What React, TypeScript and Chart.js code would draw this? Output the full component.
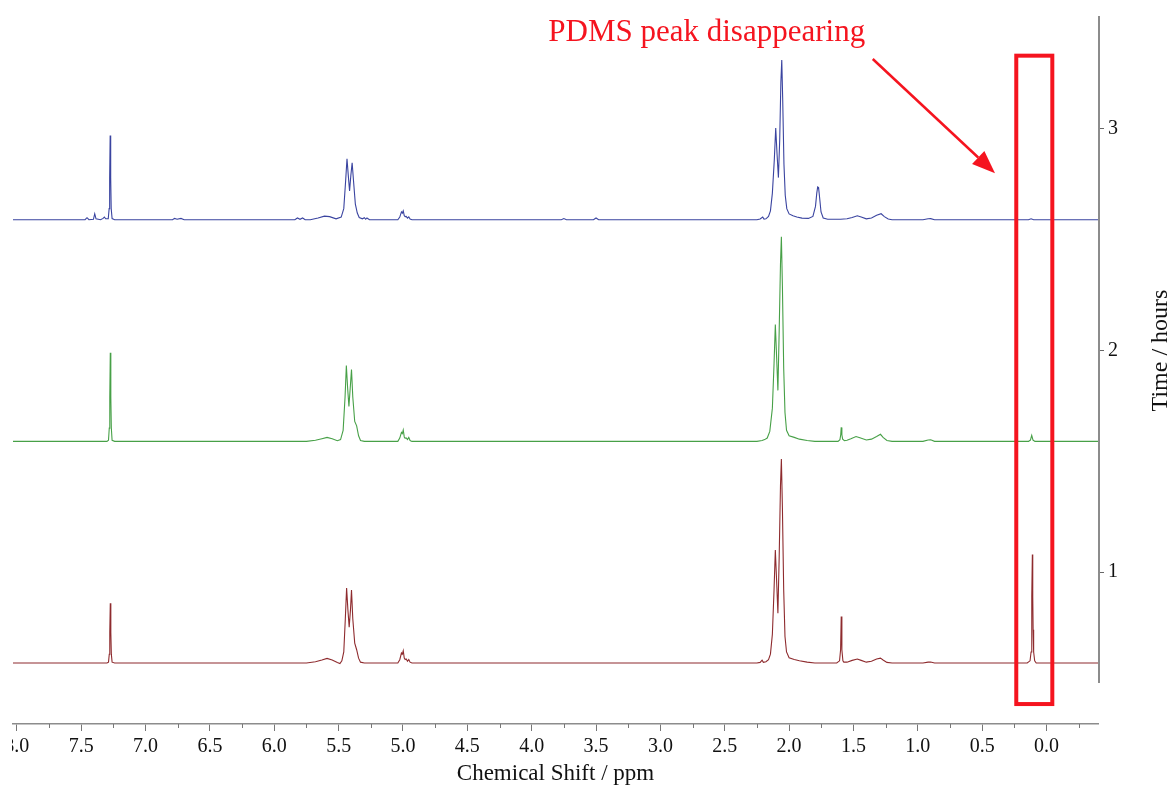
import React, { useEffect, useRef } from 'react';
import { Chart, registerables } from 'chart.js';

Chart.register(...registerables);

// ---- axis ticks ----
const X_MAJOR_TICKS = [8.0, 7.5, 7.0, 6.5, 6.0, 5.5, 5.0, 4.5, 4.0, 3.5, 3.0, 2.5, 2.0, 1.5, 1.0, 0.5, 0.0];
const X_MINOR_TICKS = [7.75, 7.25, 6.75, 6.25, 5.75, 5.25, 4.75, 4.25, 3.75, 3.25, 2.75, 2.25, 1.75, 1.25, 0.75, 0.25, -0.25];
const Y_TICKS = [1, 2, 3];
const X_MIN = -0.4;
const X_MAX = 8.03;
const Y_MIN = 0.315;
const Y_MAX = 3.509;
const Y_AXIS_END = 0.5;

// ---- series: time (hours), baseline offset and colour ----
const TIMES = [1, 2, 3];
const BASELINES = [0.59, 1.59, 2.59];
const COLORS = ['#8e2b2e', '#47a047', '#3a44a0'];

// spectra: [chemical shift (ppm), intensity above baseline (hour units)]
const SPEC_1H: [number, number][] = [
  [8.03, 0], [7.3, 0], [7.288, 0.004], [7.282, 0.04], [7.278, 0.14], [7.274, 0.27], [7.27, 0.14], [7.266, 0.04], [7.26, 0.004], [7.24, 0],
  [5.75, 0], [5.68, 0.006], [5.63, 0.014], [5.59, 0.021], [5.55, 0.014], [5.51, 0.002], [5.49, -0.002],
  [5.475, 0.01], [5.46, 0.05], [5.448, 0.2], [5.438, 0.338], [5.428, 0.24], [5.418, 0.162], [5.408, 0.24], [5.4, 0.329], [5.39, 0.2], [5.375, 0.09], [5.36, 0.06], [5.345, 0.022], [5.33, 0.004], [5.3, 0],
  [5.04, 0], [5.025, 0.015], [5.012, 0.045], [5.005, 0.04], [4.998, 0.055], [4.99, 0.022], [4.983, 0.016], [4.975, 0.018], [4.965, 0.008], [4.955, 0.016], [4.945, 0.004], [4.93, 0],
  [2.25, 0], [2.225, 0.003], [2.21, 0.013], [2.2, 0.003], [2.18, 0.006], [2.16, 0.015], [2.145, 0.04], [2.13, 0.13], [2.117, 0.33], [2.107, 0.51], [2.097, 0.37], [2.087, 0.225], [2.077, 0.48], [2.067, 0.8], [2.06, 0.92], [2.052, 0.7], [2.042, 0.33], [2.032, 0.12], [2.02, 0.05], [2.0, 0.024], [1.96, 0.016], [1.92, 0.01], [1.86, 0.004], [1.8, 0],
  [1.63, 0], [1.608, 0.01], [1.6, 0.06], [1.595, 0.21], [1.59, 0.06], [1.582, 0.01], [1.575, 0.004], [1.55, 0.004], [1.51, 0.012], [1.47, 0.018], [1.44, 0.012], [1.4, 0.004], [1.36, 0.008], [1.32, 0.018], [1.29, 0.022], [1.27, 0.014], [1.24, 0.003], [1.2, 0],
  [0.96, 0], [0.92, 0.004], [0.9, 0.005], [0.87, 0],
  [0.15, 0], [0.128, 0.01], [0.12, 0.05], [0.116, 0.15], [0.113, 0.3], [0.11, 0.49], [0.107, 0.3], [0.104, 0.15], [0.1, 0.05], [0.092, 0.01], [0.08, 0], [-0.4, 0],
];

const SPEC_2H: [number, number][] = [
  [8.03, 0], [7.3, 0], [7.288, 0.005], [7.282, 0.06], [7.278, 0.2], [7.274, 0.4], [7.27, 0.2], [7.266, 0.06], [7.26, 0.005], [7.24, 0],
  [5.75, 0], [5.68, 0.005], [5.63, 0.012], [5.59, 0.018], [5.55, 0.012], [5.51, 0.003],
  [5.485, 0.008], [5.465, 0.05], [5.45, 0.2], [5.44, 0.342], [5.43, 0.24], [5.42, 0.158], [5.41, 0.24], [5.4, 0.324], [5.39, 0.2], [5.375, 0.09], [5.36, 0.07], [5.345, 0.025], [5.33, 0.004], [5.3, 0],
  [5.04, 0], [5.025, 0.015], [5.012, 0.04], [5.005, 0.035], [4.998, 0.051], [4.99, 0.02], [4.983, 0.014], [4.975, 0.016], [4.965, 0.008], [4.955, 0.018], [4.945, 0.004], [4.93, 0],
  [2.25, 0], [2.21, 0.004], [2.19, 0.008], [2.17, 0.015], [2.15, 0.045], [2.13, 0.15], [2.117, 0.35], [2.107, 0.527], [2.097, 0.38], [2.087, 0.23], [2.077, 0.5], [2.067, 0.8], [2.06, 0.923], [2.052, 0.7], [2.042, 0.33], [2.032, 0.13], [2.02, 0.05], [2.0, 0.025], [1.96, 0.018], [1.92, 0.01], [1.86, 0.004], [1.8, 0],
  [1.62, 0], [1.605, 0.008], [1.599, 0.03], [1.595, 0.063], [1.59, 0.03], [1.584, 0.01], [1.57, 0.003], [1.55, 0.005], [1.52, 0.012], [1.48, 0.022], [1.45, 0.016], [1.4, 0.006], [1.36, 0.01], [1.32, 0.022], [1.29, 0.032], [1.27, 0.018], [1.24, 0.004], [1.2, 0],
  [0.96, 0], [0.92, 0.006], [0.9, 0.007], [0.87, 0],
  [0.14, 0], [0.125, 0.006], [0.115, 0.027], [0.105, 0.006], [0.09, 0], [-0.4, 0],
];

const SPEC_3H: [number, number][] = [
  [8.03, 0], [7.47, 0], [7.455, 0.009], [7.44, 0], [7.405, 0.002], [7.395, 0.027], [7.385, 0.004], [7.35, 0], [7.33, 0.006], [7.32, 0.012], [7.31, 0.004],
  [7.29, 0.004], [7.283, 0.05], [7.279, 0.19], [7.275, 0.38], [7.271, 0.19], [7.267, 0.05], [7.26, 0.005], [7.24, 0],
  [6.79, 0], [6.775, 0.006], [6.755, 0.002], [6.725, 0.006], [6.7, 0],
  [5.84, 0], [5.82, 0.008], [5.8, 0.002], [5.78, 0.008], [5.76, 0],
  [5.72, 0], [5.66, 0.008], [5.61, 0.016], [5.57, 0.014], [5.52, 0.004],
  [5.48, 0.012], [5.46, 0.05], [5.445, 0.18], [5.435, 0.275], [5.425, 0.2], [5.415, 0.13], [5.405, 0.2], [5.395, 0.257], [5.385, 0.18], [5.37, 0.07], [5.355, 0.03], [5.34, 0.01], [5.315, 0.004], [5.3, 0.009], [5.29, 0.002], [5.28, 0.008], [5.26, 0],
  [5.04, 0], [5.025, 0.012], [5.012, 0.035], [5.005, 0.03], [4.998, 0.04], [4.99, 0.018], [4.983, 0.014], [4.975, 0.015], [4.965, 0.007], [4.955, 0.013], [4.945, 0.003], [4.93, 0],
  [3.77, 0], [3.75, 0.005], [3.73, 0],
  [3.52, 0], [3.5, 0.008], [3.48, 0],
  [2.25, 0], [2.225, 0.003], [2.205, 0.012], [2.195, 0.003], [2.18, 0.004], [2.16, 0.015], [2.145, 0.04], [2.13, 0.12], [2.115, 0.27], [2.104, 0.414], [2.094, 0.3], [2.083, 0.19], [2.073, 0.36], [2.064, 0.62], [2.057, 0.72], [2.05, 0.55], [2.04, 0.25], [2.03, 0.11], [2.018, 0.05], [2.0, 0.026], [1.97, 0.018], [1.94, 0.012], [1.9, 0.007], [1.85, 0.006],
  [1.815, 0.015], [1.795, 0.06], [1.785, 0.12], [1.778, 0.148], [1.771, 0.145], [1.763, 0.1], [1.752, 0.035], [1.735, 0.008], [1.7, 0.002], [1.6, 0.002],
  [1.55, 0.004], [1.51, 0.01], [1.47, 0.018], [1.44, 0.012], [1.4, 0.004], [1.36, 0.008], [1.32, 0.02], [1.285, 0.027], [1.26, 0.014], [1.23, 0.003], [1.2, 0],
  [0.96, 0], [0.92, 0.004], [0.9, 0.005], [0.87, 0],
  [0.14, 0], [0.12, 0.004], [0.1, 0], [-0.4, 0],
];

const SPECTRA = [SPEC_1H, SPEC_2H, SPEC_3H];

// ---- annotation ----
const NOTE_TEXT = 'PDMS peak disappearing';
const NOTE_AT = { ppm: 2.64, hours: 3.435 };
const ARROW_FROM = { ppm: 1.35, hours: 3.315 };
const ARROW_TO = { ppm: 0.4, hours: 2.8 };
const BOX_PPM = [0.235, -0.045];
const BOX_HOURS = [3.33, 0.405];

const SERIF = '"Liberation Serif", "Times New Roman", serif';
const RED = '#f5141f';

const decorPlugin = {
  id: 'decor',
  afterDraw(chart: any) {
    const { ctx, chartArea, scales } = chart;
    const x = scales.x;
    const y = scales.y;
    ctx.save();
    // right axis line
    ctx.strokeStyle = '#8c8c8c';
    ctx.lineWidth = 2;
    ctx.beginPath();
    ctx.moveTo(chartArea.right + 1, chartArea.top);
    ctx.lineTo(chartArea.right + 1, y.getPixelForValue(Y_AXIS_END));
    ctx.stroke();
    // minor x ticks
    ctx.strokeStyle = '#777';
    ctx.lineWidth = 1;
    X_MINOR_TICKS.forEach((v) => {
      const px = Math.round(x.getPixelForValue(v)) + 0.5;
      ctx.beginPath();
      ctx.moveTo(px, chartArea.bottom);
      ctx.lineTo(px, chartArea.bottom + 4);
      ctx.stroke();
    });
    // right axis title (reads upwards)
    ctx.save();
    ctx.translate(chartArea.right + 63, y.getPixelForValue(2));
    ctx.rotate(-Math.PI / 2);
    ctx.font = `24px ${SERIF}`;
    ctx.fillStyle = '#111';
    ctx.textAlign = 'center';
    ctx.textBaseline = 'middle';
    ctx.fillText('Time / hours', 0, 0);
    ctx.restore();
    // red box
    const bx0 = x.getPixelForValue(BOX_PPM[0]);
    const bx1 = x.getPixelForValue(BOX_PPM[1]);
    const by0 = y.getPixelForValue(BOX_HOURS[0]);
    const by1 = y.getPixelForValue(BOX_HOURS[1]);
    ctx.strokeStyle = RED;
    ctx.lineWidth = 4;
    ctx.strokeRect(bx0, by0, bx1 - bx0, by1 - by0);
    // note text
    ctx.font = `31px ${SERIF}`;
    ctx.fillStyle = RED;
    ctx.textAlign = 'center';
    ctx.textBaseline = 'middle';
    ctx.fillText(NOTE_TEXT, x.getPixelForValue(NOTE_AT.ppm), y.getPixelForValue(NOTE_AT.hours));
    // arrow
    const ax0 = x.getPixelForValue(ARROW_FROM.ppm);
    const ay0 = y.getPixelForValue(ARROW_FROM.hours);
    const ax1 = x.getPixelForValue(ARROW_TO.ppm);
    const ay1 = y.getPixelForValue(ARROW_TO.hours);
    const ang = Math.atan2(ay1 - ay0, ax1 - ax0);
    const headLen = 23;
    const headW = 9;
    const bxh = ax1 - headLen * Math.cos(ang);
    const byh = ay1 - headLen * Math.sin(ang);
    ctx.strokeStyle = RED;
    ctx.lineWidth = 2.5;
    ctx.beginPath();
    ctx.moveTo(ax0, ay0);
    ctx.lineTo(bxh, byh);
    ctx.stroke();
    ctx.beginPath();
    ctx.moveTo(ax1, ay1);
    ctx.lineTo(bxh + headW * Math.sin(ang), byh - headW * Math.cos(ang));
    ctx.lineTo(bxh - headW * Math.sin(ang), byh + headW * Math.cos(ang));
    ctx.closePath();
    ctx.fillStyle = RED;
    ctx.fill();
    ctx.restore();
  },
};

export default function App() {
  const ref = useRef<HTMLCanvasElement | null>(null);
  useEffect(() => {
    if (!ref.current) return;
    const datasets = SPECTRA.map((spec, i) => ({
      label: `${TIMES[i]} h`,
      data: spec.map(([p, v]) => ({ x: p, y: BASELINES[i] + v })),
      borderColor: COLORS[i],
      borderWidth: 1.1,
      pointRadius: 0,
      tension: 0,
      fill: false,
    }));
    const chart = new Chart(ref.current, {
      type: 'line',
      data: { datasets },
      plugins: [decorPlugin],
      options: {
        animation: false,
        responsive: true,
        maintainAspectRatio: false,
        layout: { padding: { left: 1, top: 15, right: 0, bottom: 0 } },
        plugins: { legend: { display: false }, tooltip: { enabled: false } },
        scales: {
          x: {
            type: 'linear',
            reverse: true,
            min: X_MIN,
            max: X_MAX,
            afterBuildTicks: (s: any) => {
              s.ticks = X_MAJOR_TICKS.map((v) => ({ value: v }));
            },
            afterFit: (s: any) => {
              s.height = 65;
              s.paddingLeft = 0;
              s.paddingRight = 0;
            },
            ticks: {
              autoSkip: false,
              maxRotation: 0,
              padding: 4,
              color: '#111',
              font: { family: SERIF, size: 20 },
              callback: (v: any) => Number(v).toFixed(1),
            },
            grid: { drawOnChartArea: false, tickLength: 7, color: '#777', tickWidth: 1 },
            border: { display: true, color: '#8c8c8c', width: 1.5 },
            title: {
              display: true,
              text: 'Chemical Shift / ppm',
              color: '#111',
              font: { family: SERIF, size: 23 },
              padding: { top: 0, bottom: 1 },
            },
          },
          y: {
            type: 'linear',
            position: 'right',
            min: Y_MIN,
            max: Y_MAX,
            afterBuildTicks: (s: any) => {
              s.ticks = Y_TICKS.map((v) => ({ value: v }));
            },
            afterFit: (s: any) => {
              s.width = 74;
            },
            ticks: {
              padding: 4,
              color: '#111',
              font: { family: SERIF, size: 20 },
              callback: (v: any) => String(v),
            },
            grid: { drawOnChartArea: false, tickLength: 6, color: '#666' },
            border: { display: false },
          },
        },
      },
    });
    return () => chart.destroy();
  }, []);
  return (
    <div style={{ position: 'absolute', left: 12, top: 0, width: 1160, height: 789, background: '#fff' }}>
      <canvas ref={ref} />
    </div>
  );
}
